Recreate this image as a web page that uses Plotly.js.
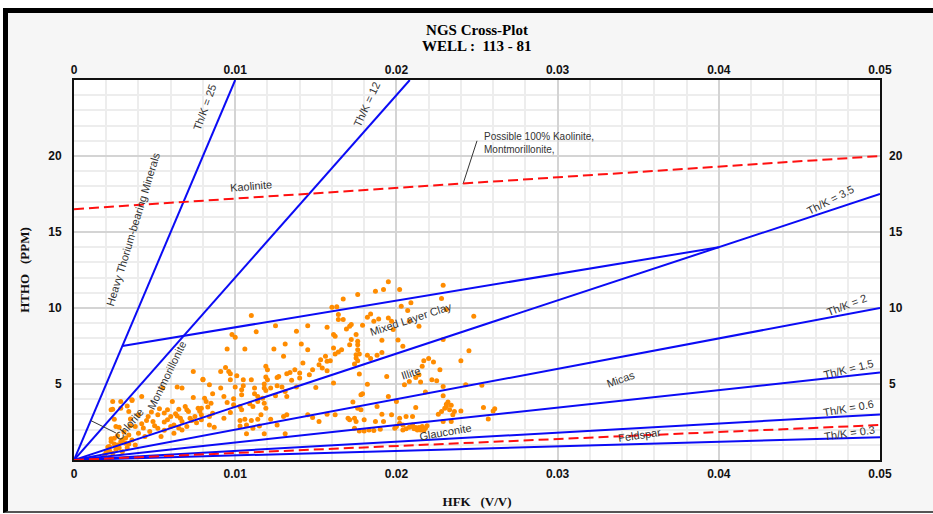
<!DOCTYPE html>
<html>
<head>
<meta charset="utf-8">
<script src="https://cdn.plot.ly/plotly-3.0.1.min.js"></script>
<style>
  html, body { margin: 0; padding: 0; background: #ffffff; }
  #frame {
    position: absolute; left: 3px; top: 8px; width: 940px; height: 498px;
    border-left: 5px solid #000; border-top: 5px solid #000; border-bottom: 2px solid #555;
    background: #f6f6f6;
  }
  #chart { position: absolute; left: 0; top: 0; width: 933px; height: 514px; }
</style>
</head>
<body>
<div id="frame"></div>
<div id="chart"></div>
<script>
// Potassium (HFK, V/V) and thorium (HTHO, ppm) readings, one pair per sample
const hfk = [
  0.0074,0.0080,0.0064,0.0067,0.0055,0.0042,0.0074,0.0036,0.0029,0.0061,
  0.0024,0.0029,0.0033,0.0069,0.0065,0.0058,0.0053,0.0077,0.0071,0.0025,
  0.0034,0.0040,0.0046,0.0052,0.0060,0.0064,0.0075,0.0079,0.0042,0.0049,
  0.0058,0.0067,0.0073,0.0062,0.0052,0.0047,0.0040,0.0034,0.0067,0.0062,
  0.0023,0.0025,0.0030,0.0022,0.0027,0.0032,0.0036,0.0044,0.0054,0.0038,
  0.0019,0.0020,0.0022,0.0024,0.0026,0.0021,0.0025,0.0028,0.0030,0.0023,
  0.0027,0.0032,0.0034,0.0031,0.0028,0.0035,0.0024,0.0036,0.0023,0.0026,
  0.0033,0.0029,
  0.0056,0.0063,0.0070,0.0078,0.0072,0.0066,0.0056,0.0060,0.0070,0.0076,
  0.0045,0.0050,0.0043,0.0038,0.0035,0.0048,0.0056,0.0065,
  0.0110,0.0125,0.0113,0.0138,0.0098,0.0100,0.0131,0.0141,0.0095,0.0106,
  0.0124,0.0145,0.0130,0.0142,0.0094,0.0119,0.0120,0.0091,0.0096,0.0097,
  0.0137,0.0134,0.0132,0.0140,0.0080,0.0101,0.0119,0.0126,0.0127,0.0097,
  0.0105,0.0110,0.0120,0.0135,0.0140,0.0084,0.0118,0.0105,0.0126,0.0100,
  0.0112,0.0118,0.0129,0.0091,0.0104,0.0119,0.0122,0.0131,0.0138,0.0081,
  0.0086,0.0093,0.0099,0.0104,0.0112,0.0114,0.0117,0.0125,0.0132,0.0082,
  0.0085,0.0079,0.0083,0.0095,0.0099,0.0103,0.0109,0.0111,0.0114,0.0118,
  0.0119,0.0104,0.0097,0.0086,0.0079,0.0084,0.0116,0.0093,0.0103,0.0106,
  0.0110,0.0114,0.0122,0.0130,0.0132,0.0084,0.0087,0.0103,0.0107,0.0111,
  0.0115,0.0126,0.0107,0.0118,0.0131,
  0.0195,0.0187,0.0192,0.0202,0.0176,0.0167,0.0160,0.0163,0.0203,0.0164,
  0.0184,0.0207,0.0164,0.0167,0.0182,0.0186,0.0189,0.0195,0.0197,0.0145,
  0.0157,0.0169,0.0171,0.0172,0.0179,0.0198,0.0161,0.0162,0.0175,0.0172,
  0.0176,0.0191,0.0201,0.0171,0.0176,0.0204,0.0161,0.0166,0.0176,0.0156,
  0.0162,0.0164,0.0175,0.0177,0.0182,0.0188,0.0191,0.0153,0.0157,0.0159,
  0.0175,0.0176,0.0184,0.0152,0.0154,0.0174,0.0157,0.0148,0.0146,0.0177,
  0.0194,0.0150,0.0161,0.0182,0.0205,0.0208,0.0178,0.0179,0.0195,0.0173,
  0.0200,0.0176,0.0178,0.0188,0.0145,0.0148,0.0152,0.0157,0.0162,0.0170,
  0.0171,0.0174,0.0175,0.0180,0.0187,0.0191,0.0192,0.0197,0.0202,0.0206,
  0.0210,0.0174,0.0177,0.0180,0.0183,0.0186,0.0190,0.0199,0.0204,0.0204,
  0.0210,0.0202,
  0.0229,0.0228,0.0209,0.0231,0.0248,0.0214,0.0208,0.0229,0.0245,0.0240,
  0.0217,0.0220,0.0223,0.0216,0.0227,0.0214,0.0212,0.0222,0.0225,0.0215,
  0.0243,0.0253,0.0229,0.0218,0.0229,0.0231,0.0232,0.0231,0.0233,0.0236,
  0.0240,0.0254,0.0261,0.0260,0.0257,0.0212,0.0228,0.0226,0.0235,0.0234,
  0.0229,0.0212,0.0214,0.0216,0.0213,0.0215,0.0218,
  0.0210,0.0217,0.0211,0.0219,0.0206,0.0208,0.0200,0.0230,0.0234
];
const htho = [
  5.83,5.28,4.80,4.73,4.73,4.18,4.11,3.96,3.85,3.85,
  3.34,3.41,3.56,3.52,3.34,3.30,3.37,3.41,3.19,2.68,
  3.19,2.97,2.86,2.97,2.86,2.90,2.86,2.97,2.38,2.53,
  2.64,2.53,2.60,2.31,2.09,1.87,1.76,1.65,1.98,1.76,
  1.21,1.43,1.32,0.88,0.99,1.10,1.32,1.54,1.54,0.99,
  0.35,0.50,0.62,0.45,0.70,0.85,1.05,0.80,0.55,1.40,
  1.60,1.45,1.05,1.85,2.15,2.25,3.85,3.91,3.30,2.20,
  0.80,1.20,
  3.10,3.05,3.30,3.20,2.75,2.75,2.50,2.20,2.20,2.45,
  2.60,2.25,2.10,2.20,2.70,3.15,1.95,2.10,
  9.50,8.84,8.43,8.47,8.25,8.07,7.63,7.63,7.30,7.30,
  7.30,7.26,6.82,6.38,6.09,6.16,5.94,5.83,5.83,5.68,
  5.94,5.76,5.68,5.72,5.32,5.54,5.46,5.43,5.50,5.28,
  5.28,5.28,5.28,5.24,5.39,4.95,5.00,4.88,4.88,4.80,
  4.73,4.73,4.80,4.73,4.62,4.58,4.73,4.51,4.80,4.07,
  4.36,4.18,4.03,4.29,4.36,4.18,4.07,4.22,4.18,3.85,
  3.74,3.41,3.48,3.78,3.63,3.52,3.70,3.52,3.85,3.74,
  3.41,3.30,3.12,3.08,2.64,2.86,2.97,2.75,2.60,2.68,
  2.60,2.68,2.68,2.86,2.97,2.31,2.16,2.24,2.31,2.09,
  2.24,2.31,1.72,1.72,1.72,
  11.73,11.11,11.22,11.22,10.89,10.60,10.05,10.08,10.12,9.57,
  9.61,9.83,9.24,9.24,9.39,9.13,9.28,9.35,9.13,8.84,
  8.73,8.62,8.80,8.91,8.87,8.58,8.25,8.14,8.25,7.92,
  7.81,7.88,7.90,7.59,7.59,7.48,7.37,7.26,7.26,6.82,
  6.97,7.10,6.93,6.97,6.89,6.89,7.08,6.60,6.49,6.53,
  6.71,6.53,6.67,6.27,6.05,6.31,5.87,5.94,5.61,5.65,
  5.50,4.77,5.06,4.99,4.95,5.17,4.29,4.36,4.18,3.81,
  3.85,3.41,3.30,3.52,2.97,2.79,2.53,3.01,2.97,2.75,
  2.64,2.75,2.53,2.64,2.53,3.01,2.53,2.97,2.75,2.86,
  2.86,2.09,1.91,1.91,1.98,1.94,2.02,2.09,1.98,2.31,
  2.31,2.42,
  11.50,10.63,10.34,9.90,9.46,8.80,9.13,7.92,7.19,6.53,
  6.53,6.67,6.45,6.16,5.94,5.61,5.43,5.28,5.21,5.13,
  4.95,4.91,4.84,4.47,4.22,3.67,3.81,3.52,3.30,3.19,
  3.23,3.45,3.37,3.23,2.70,3.45,3.19,3.01,2.97,2.53,
  2.53,2.13,2.13,2.20,1.98,1.98,2.09,
  2.20,1.92,2.05,2.25,2.05,2.15,2.20,3.40,3.60
];

// Th/K boundary lines (solid blue): end points in HFK and HTHO
const boundaryNames = ['Th/K = 25','Th/K = 12','Th/K = 3.5','Th/K = 2','Th/K = 1.5','Th/K = 0.6','Th/K = 0.3','Mixed layer clay limit'];
const boundaryK  = [[0, 0.01],[0, 0.02083],[0, 0.05],[0, 0.05],[0, 0.05],[0, 0.05],[0, 0.05],[0.003, 0.04]];
const boundaryTh = [[0, 25],  [0, 25],     [0, 17.5],[0, 10],  [0, 5.75],[0, 3],   [0, 1.5], [7.5, 14]];

// Dashed red lines: possible 100% kaolinite and feldspar trend
const dashedNames = ['Possible 100% Kaolinite','Feldspar'];
const dashedK  = [[0, 0.05],[0, 0.05]];
const dashedTh = [[16.5, 20],[0, 2.3]];

// Leader lines tying labels to their zones
const leaderK  = [[0.02413, 0.0250],[0.00103, 0.0026]];
const leaderTh = [[18.15, 21.0],[2.6, 1.78]];

const tickValsTh = [5, 10, 15, 20];

const traces = [];
traces.push({
  type: 'scatter', mode: 'markers', x: hfk, y: htho, name: 'Samples',
  marker: { color: '#ff8c00', size: 5, line: { width: 0 } },
  hoverinfo: 'x+y'
});
boundaryNames.forEach((n, i) => traces.push({
  type: 'scatter', mode: 'lines', x: boundaryK[i], y: boundaryTh[i], name: n,
  line: { color: '#0b0bf5', width: 2 }, hoverinfo: 'skip'
}));
leaderK.forEach((k, i) => traces.push({
  type: 'scatter', mode: 'lines', x: k, y: leaderTh[i], name: 'leader',
  line: { color: '#333333', width: 1 }, hoverinfo: 'skip'
}));
dashedNames.forEach((n, i) => traces.push({
  type: 'scatter', mode: 'lines', x: dashedK[i], y: dashedTh[i], name: n,
  xaxis: 'x2', yaxis: 'y2',
  line: { color: '#ff1010', width: 2, dash: '10px,5px' }, hoverinfo: 'skip'
}));

const tickFont = { family: 'Liberation Sans, Arial, sans-serif', size: 12, color: '#111', weight: 'bold' };
const labelFont = { family: 'Liberation Sans, Arial, sans-serif', size: 11, color: '#333' };
const serif = 'Liberation Serif, Times New Roman, serif';

// Zone and ratio labels
const labels = [
  { text: 'Th/K = 25', x: 0.00813, y: 23.2, angle: -70 },
  { text: 'Th/K = 12', x: 0.01818, y: 23.4, angle: -65 },
  { text: 'Heavy Thorium-bearing Minerals', x: 0.00366, y: 15.2, angle: -73 },
  { text: 'Kaolinite', x: 0.01098, y: 18.0, angle: -5 },
  { text: 'Th/K = 3.5', x: 0.0469, y: 17.1, angle: -27 },
  { text: 'Th/K = 2', x: 0.04793, y: 10.17, angle: -21 },
  { text: 'Th/K = 1.5', x: 0.04804, y: 5.98, angle: -14 },
  { text: 'Th/K = 0.6', x: 0.04806, y: 3.41, angle: -10 },
  { text: 'Th/K = 0.3', x: 0.0481, y: 1.76, angle: -8 },
  { text: 'Mixed Layer Clay', x: 0.02089, y: 9.29, angle: -18 },
  { text: 'Illite', x: 0.0209, y: 5.72, angle: -18 },
  { text: 'Micas', x: 0.03393, y: 5.35, angle: -20 },
  { text: 'Glauconite', x: 0.02302, y: 1.87, angle: -10 },
  { text: 'Feldspar', x: 0.03507, y: 1.65, angle: -8 },
  { text: 'Chlorite', x: 0.00343, y: 2.38, angle: -50 },
  { text: 'Montmorillonite', x: 0.00575, y: 5.61, angle: -64 }
];
const annotations = labels.map(l => ({
  text: l.text, x: l.x, y: l.y, xref: 'x', yref: 'y', textangle: l.angle,
  showarrow: false, font: labelFont, xanchor: 'center', yanchor: 'middle'
}));
annotations.push({
  text: 'Possible 100% Kaolinite,<br>Montmorillonite,', x: 0.0253, y: 20.86,
  xref: 'x', yref: 'y', showarrow: false, xanchor: 'left', yanchor: 'middle', align: 'left',
  font: { family: 'Liberation Sans, Arial, sans-serif', size: 10, color: '#333' }
});
// second title line (well name), placed above the plot area
annotations.push({
  text: '<b>WELL :\u00a0 113 - 81</b>', x: 0.5, xref: 'paper', y: (460 - 46) / 380, yref: 'paper',
  showarrow: false, xanchor: 'center', yanchor: 'middle',
  font: { family: serif, size: 15, color: '#000' }
});

const layout = {
  width: 933, height: 514,
  margin: { l: 74, r: 53, t: 80, b: 54, pad: 0 },
  paper_bgcolor: 'rgba(0,0,0,0)', plot_bgcolor: '#ffffff',
  showlegend: false,
  title: {
    text: '<b>NGS Cross-Plot</b>',
    x: 0.5, xref: 'paper', y: 1 - 30 / 514, yref: 'container', yanchor: 'middle',
    font: { family: serif, size: 15, color: '#000' }
  },
  xaxis: {
    range: [0, 0.05], tick0: 0, dtick: 0.01, ticks: '', zeroline: false,
    showgrid: true, gridcolor: '#d4d4d4', gridwidth: 2,
    minor: { tickmode: 'linear', tick0: 0, dtick: 0.002, showgrid: true, gridcolor: '#ededed', gridwidth: 2 },
    showline: true, linecolor: '#111', linewidth: 2, mirror: true,
    tickfont: tickFont, ticklabelstandoff: 2,
    title: { text: '<b>HFK\u00a0\u00a0\u00a0(V/V)</b>', standoff: 16,
      font: { family: serif, size: 13, color: '#111' } }
  },
  yaxis: {
    range: [0, 25], tickmode: 'array', tickvals: tickValsTh, ticks: '', zeroline: false,
    showgrid: true, gridcolor: '#d4d4d4', gridwidth: 2,
    minor: { tickmode: 'linear', tick0: 0, dtick: 1, showgrid: true, gridcolor: '#ededed', gridwidth: 2 },
    showline: true, linecolor: '#111', linewidth: 2, mirror: true,
    tickfont: tickFont, ticklabelstandoff: 8,
    title: { text: '<b>HTHO\u00a0\u00a0\u00a0(PPM)</b>', standoff: 16,
      font: { family: serif, size: 13, color: '#111' } }
  },
  xaxis2: {
    overlaying: 'x', side: 'top', anchor: 'y2', range: [0, 0.05], tick0: 0, dtick: 0.01,
    ticks: '', showgrid: false, zeroline: false, showline: false, tickfont: tickFont, ticklabelstandoff: 3
  },
  yaxis2: {
    overlaying: 'y', side: 'right', anchor: 'x2', range: [0, 25], tickmode: 'array', tickvals: tickValsTh,
    ticks: '', showgrid: false, zeroline: false, showline: false, tickfont: tickFont, ticklabelstandoff: 8
  },
  annotations: annotations
};

Plotly.newPlot('chart', traces, layout, { displayModeBar: false, staticPlot: true });
</script>
</body>
</html>
